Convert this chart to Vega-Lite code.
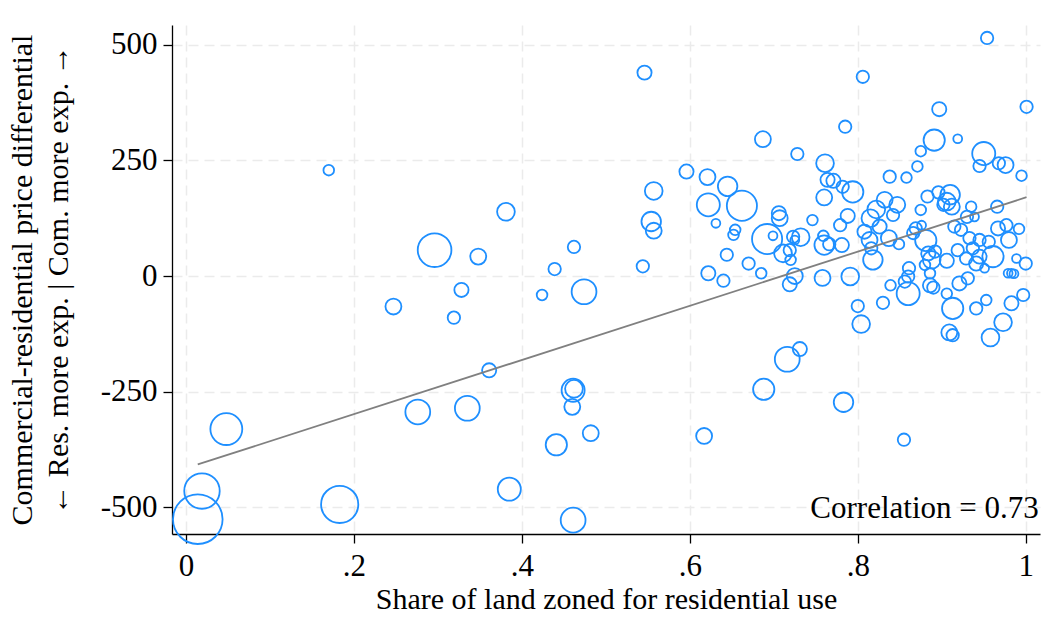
{
  "$schema": "https://vega.github.io/schema/vega-lite/v6.json",
  "width": 868,
  "height": 509,
  "autosize": {"type": "none"},
  "padding": {"left": 172, "top": 25, "right": 3, "bottom": 83},
  "background": "white",
  "config": {
    "view": {"stroke": null},
    "font": "Liberation Serif",
    "axis": {
      "domainColor": "black",
      "domainWidth": 1.3,
      "tickColor": "black",
      "tickWidth": 1.3,
      "tickSize": 9,
      "labelFont": "Liberation Serif",
      "labelFontSize": 31,
      "labelColor": "black",
      "titleFont": "Liberation Serif",
      "titleFontSize": 30,
      "titleFontWeight": "normal",
      "titleColor": "black",
      "gridColor": "#ebebeb",
      "gridWidth": 1.5,
      "gridDash": [10, 6]
    }
  },
  "datasets": {
    "pts": [
      {"x": 0.170, "y": 229, "w": 36},
      {"x": 0.381, "y": 139, "w": 100},
      {"x": 0.296, "y": 56, "w": 361},
      {"x": 0.348, "y": 42, "w": 81},
      {"x": 0.462, "y": 63, "w": 49},
      {"x": 0.439, "y": 15, "w": 49},
      {"x": 0.474, "y": -34, "w": 196},
      {"x": 0.424, "y": -41, "w": 36},
      {"x": 0.328, "y": -30, "w": 64},
      {"x": 0.247, "y": -66, "w": 81},
      {"x": 0.319, "y": -90, "w": 49},
      {"x": 0.361, "y": -204, "w": 64},
      {"x": 0.461, "y": -247, "w": 169},
      {"x": 0.462, "y": -244, "w": 100},
      {"x": 0.460, "y": -283, "w": 81},
      {"x": 0.276, "y": -294, "w": 196},
      {"x": 0.335, "y": -286, "w": 196},
      {"x": 0.482, "y": -340, "w": 81},
      {"x": 0.441, "y": -365, "w": 144},
      {"x": 0.048, "y": -331, "w": 324},
      {"x": 0.019, "y": -465, "w": 400},
      {"x": 0.014, "y": -526, "w": 784},
      {"x": 0.183, "y": -494, "w": 441},
      {"x": 0.385, "y": -461, "w": 169},
      {"x": 0.461, "y": -528, "w": 196},
      {"x": 0.546, "y": 440, "w": 64},
      {"x": 0.544, "y": 21, "w": 49},
      {"x": 0.557, "y": 184, "w": 100},
      {"x": 0.554, "y": 118, "w": 121},
      {"x": 0.557, "y": 98, "w": 81},
      {"x": 0.596, "y": 226, "w": 64},
      {"x": 0.621, "y": 214, "w": 81},
      {"x": 0.645, "y": 194, "w": 121},
      {"x": 0.622, "y": 154, "w": 169},
      {"x": 0.662, "y": 152, "w": 289},
      {"x": 0.631, "y": 114, "w": 25},
      {"x": 0.654, "y": 100, "w": 36},
      {"x": 0.652, "y": 89, "w": 36},
      {"x": 0.644, "y": 46, "w": 49},
      {"x": 0.622, "y": 6, "w": 64},
      {"x": 0.640, "y": -10, "w": 49},
      {"x": 0.670, "y": 27, "w": 49},
      {"x": 0.685, "y": 6, "w": 36},
      {"x": 0.692, "y": 80, "w": 289},
      {"x": 0.699, "y": 87, "w": 25},
      {"x": 0.706, "y": 136, "w": 64},
      {"x": 0.707, "y": 125, "w": 81},
      {"x": 0.711, "y": 49, "w": 100},
      {"x": 0.720, "y": 35, "w": 36},
      {"x": 0.723, "y": 85, "w": 49},
      {"x": 0.732, "y": 84, "w": 100},
      {"x": 0.725, "y": 78, "w": 25},
      {"x": 0.719, "y": 56, "w": 49},
      {"x": 0.725, "y": 0, "w": 81},
      {"x": 0.719, "y": -18, "w": 64},
      {"x": 0.687, "y": 296, "w": 81},
      {"x": 0.728, "y": 264, "w": 49},
      {"x": 0.761, "y": 244, "w": 100},
      {"x": 0.746, "y": 121, "w": 36},
      {"x": 0.759, "y": 87, "w": 36},
      {"x": 0.760, "y": 67, "w": 121},
      {"x": 0.766, "y": 69, "w": 49},
      {"x": 0.781, "y": 67, "w": 64},
      {"x": 0.758, "y": -4, "w": 81},
      {"x": 0.791, "y": -1, "w": 100},
      {"x": 0.779, "y": 110, "w": 49},
      {"x": 0.788, "y": 130, "w": 64},
      {"x": 0.760, "y": 170, "w": 81},
      {"x": 0.764, "y": 208, "w": 64},
      {"x": 0.771, "y": 206, "w": 64},
      {"x": 0.782, "y": 193, "w": 49},
      {"x": 0.794, "y": 182, "w": 144},
      {"x": 0.785, "y": 323, "w": 49},
      {"x": 0.806, "y": 431, "w": 49},
      {"x": 0.731, "y": -158, "w": 64},
      {"x": 0.716, "y": -180, "w": 196},
      {"x": 0.688, "y": -245, "w": 144},
      {"x": 0.783, "y": -273, "w": 121},
      {"x": 0.617, "y": -346, "w": 81},
      {"x": 0.855, "y": -354, "w": 49},
      {"x": 0.800, "y": -65, "w": 49},
      {"x": 0.804, "y": -104, "w": 100},
      {"x": 0.875, "y": 270, "w": 36},
      {"x": 0.950, "y": 265, "w": 169},
      {"x": 0.945, "y": 238, "w": 49},
      {"x": 0.968, "y": 244, "w": 49},
      {"x": 0.976, "y": 240, "w": 81},
      {"x": 0.995, "y": 217, "w": 36},
      {"x": 0.871, "y": 237, "w": 36},
      {"x": 0.838, "y": 215, "w": 49},
      {"x": 0.858, "y": 213, "w": 36},
      {"x": 0.832, "y": 165, "w": 81},
      {"x": 0.847, "y": 154, "w": 81},
      {"x": 0.822, "y": 144, "w": 100},
      {"x": 0.842, "y": 132, "w": 49},
      {"x": 0.815, "y": 125, "w": 100},
      {"x": 0.826, "y": 107, "w": 64},
      {"x": 0.808, "y": 96, "w": 64},
      {"x": 0.837, "y": 82, "w": 81},
      {"x": 0.814, "y": 78, "w": 81},
      {"x": 0.816, "y": 60, "w": 49},
      {"x": 0.849, "y": 69, "w": 36},
      {"x": 0.818, "y": 35, "w": 121},
      {"x": 0.883, "y": 172, "w": 49},
      {"x": 0.875, "y": 143, "w": 36},
      {"x": 0.896, "y": 181, "w": 49},
      {"x": 0.910, "y": 176, "w": 121},
      {"x": 0.906, "y": 161, "w": 100},
      {"x": 0.912, "y": 150, "w": 81},
      {"x": 0.902, "y": 154, "w": 49},
      {"x": 0.935, "y": 150, "w": 36},
      {"x": 0.930, "y": 128, "w": 49},
      {"x": 0.939, "y": 128, "w": 25},
      {"x": 0.966, "y": 150, "w": 49},
      {"x": 0.977, "y": 110, "w": 49},
      {"x": 0.967, "y": 103, "w": 64},
      {"x": 0.992, "y": 102, "w": 36},
      {"x": 0.980, "y": 78, "w": 81},
      {"x": 0.915, "y": 107, "w": 49},
      {"x": 0.923, "y": 100, "w": 49},
      {"x": 0.933, "y": 82, "w": 49},
      {"x": 0.869, "y": 103, "w": 49},
      {"x": 0.876, "y": 110, "w": 25},
      {"x": 0.866, "y": 93, "w": 49},
      {"x": 0.881, "y": 77, "w": 144},
      {"x": 0.945, "y": 78, "w": 49},
      {"x": 0.956, "y": 74, "w": 49},
      {"x": 0.937, "y": 60, "w": 49},
      {"x": 0.919, "y": 56, "w": 49},
      {"x": 0.961, "y": 42, "w": 144},
      {"x": 0.945, "y": 42, "w": 64},
      {"x": 0.941, "y": 27, "w": 64},
      {"x": 0.951, "y": 17, "w": 25},
      {"x": 0.929, "y": 38, "w": 49},
      {"x": 0.989, "y": 38, "w": 25},
      {"x": 1.000, "y": 27, "w": 49},
      {"x": 0.979, "y": 6, "w": 25},
      {"x": 0.983, "y": 6, "w": 25},
      {"x": 0.986, "y": 5, "w": 25},
      {"x": 0.884, "y": 49, "w": 64},
      {"x": 0.892, "y": 53, "w": 49},
      {"x": 0.888, "y": 35, "w": 100},
      {"x": 0.906, "y": 33, "w": 64},
      {"x": 0.880, "y": 24, "w": 36},
      {"x": 0.886, "y": 6, "w": 36},
      {"x": 0.861, "y": 17, "w": 49},
      {"x": 0.860, "y": -1, "w": 49},
      {"x": 0.856, "y": -12, "w": 49},
      {"x": 0.860, "y": -38, "w": 169},
      {"x": 0.839, "y": -20, "w": 36},
      {"x": 0.886, "y": -20, "w": 64},
      {"x": 0.890, "y": -25, "w": 49},
      {"x": 0.906, "y": -38, "w": 36},
      {"x": 0.921, "y": -16, "w": 64},
      {"x": 0.931, "y": -5, "w": 49},
      {"x": 0.953, "y": -52, "w": 36},
      {"x": 0.913, "y": -70, "w": 144},
      {"x": 0.941, "y": -70, "w": 49},
      {"x": 0.983, "y": -59, "w": 64},
      {"x": 0.997, "y": -41, "w": 49},
      {"x": 0.830, "y": -58, "w": 49},
      {"x": 0.973, "y": -100, "w": 100},
      {"x": 0.958, "y": -133, "w": 100},
      {"x": 0.909, "y": -122, "w": 81},
      {"x": 0.913, "y": -128, "w": 49},
      {"x": 0.897, "y": 361, "w": 64},
      {"x": 0.954, "y": 515, "w": 49},
      {"x": 1.001, "y": 366, "w": 49},
      {"x": 0.919, "y": 297, "w": 25},
      {"x": 0.891, "y": 294, "w": 144}
    ],
    "fit": [
      {"x": 0.014, "y": -407.6},
      {"x": 1.001, "y": 170.5}
    ],
    "note": [
      {"label": "Correlation = 0.73"}
    ]
  },
  "layer": [
    {
      "data": {"name": "pts"},
      "mark": {"type": "point", "shape": "circle", "filled": false, "stroke": "#1E8FFF", "strokeWidth": 1.8, "opacity": 1, "clip": false},
      "encoding": {
        "x": {
          "field": "x", "type": "quantitative",
          "scale": {"domain": [-0.0167, 1.017], "nice": false, "zero": false},
          "axis": {
            "values": [0, 0.2, 0.4, 0.6, 0.8, 1],
            "labelExpr": "datum.value == 0 ? '0' : datum.value == 1 ? '1' : replace(format(datum.value, '.1f'), '0.', '.')",
            "labelPadding": 8,
            "title": "Share of land zoned for residential use",
            "titlePadding": 3,
            "grid": true
          }
        },
        "y": {
          "field": "y", "type": "quantitative",
          "scale": {"domain": [-558, 543], "nice": false, "zero": false},
          "axis": {
            "values": [-500, -250, 0, 250, 500],
            "labelExpr": "'' + datum.value",
            "labelPadding": 6,
            "title": ["Commercial-residential price differential", "← Res. more exp. | Com. more exp. →"],
            "titleLineHeight": 36,
            "titlePadding": 27,
            "grid": true
          }
        },
        "size": {
          "field": "w", "type": "quantitative",
          "scale": {"type": "linear", "domain": [0, 1000], "range": [0, 3141.6], "zero": true},
          "legend": null
        }
      }
    },
    {
      "data": {"name": "fit"},
      "mark": {"type": "line", "color": "#808080", "strokeWidth": 1.8},
      "encoding": {
        "x": {"field": "x", "type": "quantitative"},
        "y": {"field": "y", "type": "quantitative"}
      }
    },
    {
      "data": {"name": "note"},
      "mark": {"type": "text", "align": "right", "baseline": "alphabetic", "fontSize": 31, "font": "Liberation Serif", "color": "black"},
      "encoding": {
        "x": {"datum": 1.0155},
        "y": {"datum": -524},
        "text": {"field": "label"}
      }
    }
  ]
}
